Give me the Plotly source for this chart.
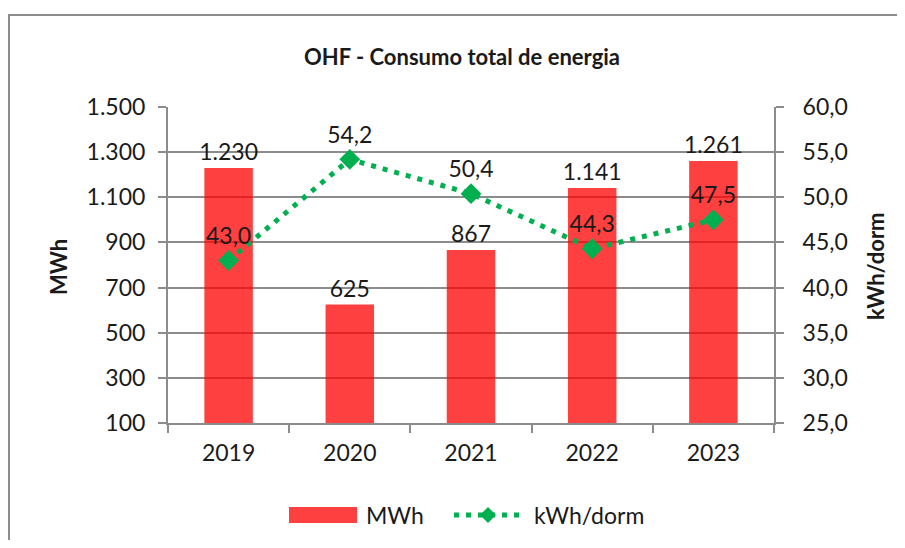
import plotly.graph_objects as go

years = ["2019", "2020", "2021", "2022", "2023"]
mwh = [1230, 625, 867, 1141, 1261]
kwh_dorm = [43.0, 54.2, 50.4, 44.3, 47.5]

FONT = "Lato"
GRID = "#8c8c8c"
TXT = "#1a1a1a"
RED = "rgba(255,0,0,0.75)"
GREEN = "#00B050"

# page body has an 8px margin; reference pixel coords (X, Y) -> paper coords
def px(X):
    return (X - 168) / 606

def py(Y):
    return (423 - Y) / 316

fig = go.Figure()
fig.add_trace(go.Bar(
    x=years, y=mwh, name="MWh", showlegend=False,
    marker=dict(color=RED, line=dict(width=0)),
    width=0.4,
    texttemplate="%{y:,d}", textposition="outside", constraintext="none",
    textfont=dict(size=23, color=TXT, family=FONT),
    cliponaxis=False,
))
fig.add_trace(go.Scatter(
    x=years, y=kwh_dorm, name="kWh/dorm", yaxis="y2", showlegend=False,
    mode="lines+markers+text",
    line=dict(color=GREEN, width=5, dash="5px,7px"),
    marker=dict(symbol="diamond", size=16, color=GREEN),
    texttemplate="%{y:.1f}", textposition="top center",
    textfont=dict(size=23, color=TXT, family=FONT),
    cliponaxis=False,
))

axis_common = dict(showline=True, linecolor=GRID, linewidth=2, ticks="outside", ticklen=8,
                   tickcolor=GRID, tickwidth=2, zeroline=False,
                   tickfont=dict(size=23, family=FONT, color=TXT))

fig.update_layout(
    width=889, height=532,
    margin=dict(l=160, r=123, t=99, b=117),
    paper_bgcolor="white", plot_bgcolor="white",
    separators=",.",
    font=dict(family=FONT, size=23, color=TXT),
    title=dict(text="<b>OHF - Consumo total de energia</b>", x=454 / 889, xanchor="center",
               y=1 - 49 / 532, yanchor="middle", font=dict(size=22, family=FONT, color=TXT)),
    xaxis=dict(**axis_common, tickson="boundaries", showgrid=False, ticklabelstandoff=8),
    yaxis=dict(**axis_common, range=[100, 1500], dtick=200, tick0=100, tickformat=",d",
               showgrid=True, gridcolor=GRID, gridwidth=2, ticklabelstandoff=8),
    yaxis2=dict(**axis_common, range=[25, 60], dtick=5, tick0=25, tickformat=".1f",
                overlaying="y", side="right", showgrid=False, ticklabelstandoff=14),
    bargap=0.6,
    annotations=[
        dict(text="<b>MWh</b>", xref="paper", yref="paper", x=px(58), y=py(267),
             textangle=-90, showarrow=False, xanchor="center", yanchor="middle",
             font=dict(size=22, family=FONT, color=TXT)),
        dict(text="<b>kWh/dorm</b>", xref="paper", yref="paper", x=px(875), y=py(266),
             textangle=-90, showarrow=False, xanchor="center", yanchor="middle",
             font=dict(size=22, family=FONT, color=TXT)),
        dict(text="MWh", xref="paper", yref="paper", x=px(364), y=py(515),
             showarrow=False, xanchor="left", yanchor="middle",
             font=dict(size=23, family=FONT, color=TXT)),
        dict(text="kWh/dorm", xref="paper", yref="paper", x=px(532), y=py(515),
             showarrow=False, xanchor="left", yanchor="middle",
             font=dict(size=23, family=FONT, color=TXT)),
    ],
    shapes=[
        dict(type="rect", xref="paper", yref="paper",
             x0=px(9), x1=1.5, y0=-0.7, y1=py(15),
             line=dict(color=GRID, width=2), fillcolor="rgba(0,0,0,0)", layer="below"),
        dict(type="rect", xref="paper", yref="paper",
             x0=px(289), x1=px(357), y0=py(523), y1=py(507),
             line=dict(width=0), fillcolor=RED),
        dict(type="line", xref="paper", yref="paper",
             x0=px(454), x1=px(525), y0=py(515), y1=py(515),
             line=dict(color=GREEN, width=5, dash="5px,7px")),
        dict(type="path", xref="paper", yref="paper",
             xsizemode="pixel", ysizemode="pixel", xanchor=px(488), yanchor=py(515),
             path="M -8 0 L 0 8 L 8 0 L 0 -8 Z",
             line=dict(width=0), fillcolor=GREEN),
    ],
)

fig.write_html("out.html")
